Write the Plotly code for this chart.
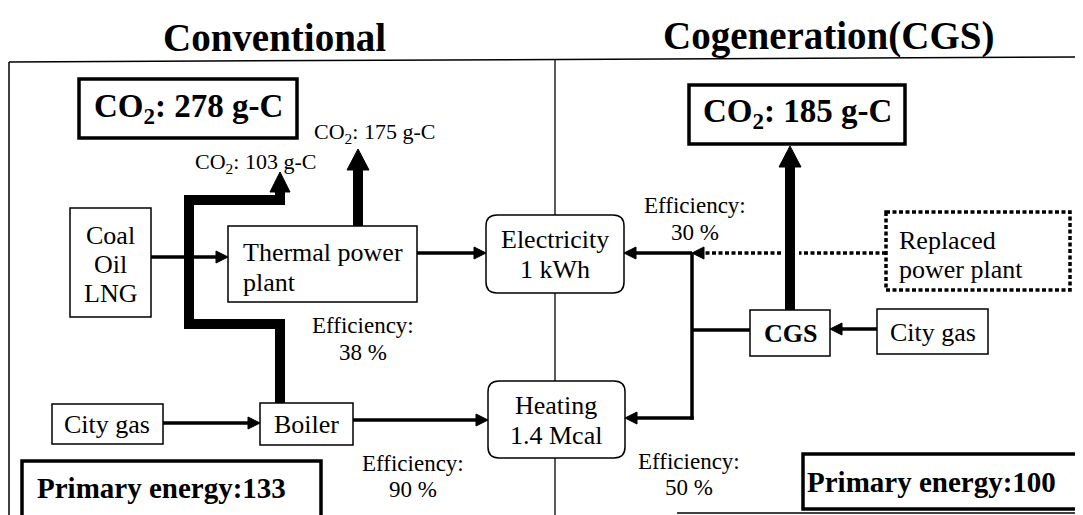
import plotly.graph_objects as go

W, H = 1083, 515
OFF = 8  # default page body margin

# ---------------- data ----------------
section_titles = ["Conventional", "Cogeneration(CGS)"]
co2_total = [278, 185]            # g-C : conventional, CGS
co2_conv_parts = [103, 175]       # g-C : boiler, thermal power plant
conv_eff = [38, 90]               # % : thermal power plant, boiler
cgs_eff = [30, 50]                # % : electricity, heat
primary_energy = [133, 100]
fuel_lines = ["Coal", "Oil", "LNG"]
thermal_lines = ["Thermal power", "plant"]
elec_lines = ["Electricity", "1 kWh"]
heat_lines = ["Heating", "1.4 Mcal"]
replaced_lines = ["Replaced", "power plant"]
city_gas = "City gas"
boiler_label = "Boiler"
cgs_label = "CGS"

# ---------------- geometry (pixel-like coords) ----------------
FONT = "Liberation Serif, Times New Roman, serif"
boxes = {
    "coal": (70, 208, 151, 317),
    "thermal": (228, 226, 417, 302),
    "cityL": (52, 404, 163, 444),
    "boiler": (260, 403, 353, 445),
    "cgs": (750, 310, 830, 356),
    "cityR": (877, 309, 988, 354),
}
rounded = {"elec": (486, 215, 624, 293), "heat": (488, 381, 625, 458)}
thick_boxes = {
    "co2L": (79, 79, 297, 138),
    "co2R": (689, 85, 905, 144),
    "peL": (22, 461, 321, 520),
    "peR": (803, 454, 1077, 509),
}
replaced_box = (886, 212, 1070, 290)

shapes = []
annotations = []


def line(x0, y0, x1, y1, w=3.5, dash=None, color="black"):
    d = dict(type="line", xref="x", yref="y", x0=x0, y0=y0, x1=x1, y1=y1,
             line=dict(color=color, width=w), layer="above")
    if dash:
        d["line"]["dash"] = dash
    shapes.append(d)


def head(x, y, dx, dy, L, hw):
    bx, by = x - dx * L, y - dy * L
    px, py = -dy, dx
    p = (f"M {x},{y} L {bx + px * hw},{by + py * hw} "
         f"L {bx - px * hw},{by - py * hw} Z")
    shapes.append(dict(type="path", xref="x", yref="y", path=p,
                       fillcolor="black", line=dict(color="black", width=1),
                       layer="above"))


def arrow(x0, y0, x1, y1, w=3.5, L=12, hw=6, dash=None):
    dx, dy = x1 - x0, y1 - y0
    n = (dx * dx + dy * dy) ** 0.5
    dx, dy = dx / n, dy / n
    line(x0, y0, x1 - dx * (L - 1), y1 - dy * (L - 1), w, dash)
    head(x1, y1, dx, dy, L, hw)


def rect(b, w=1.5, dash=None):
    d = dict(type="rect", xref="x", yref="y", x0=b[0], y0=b[1], x1=b[2], y1=b[3],
             line=dict(color="black", width=w), fillcolor="white", layer="above")
    if dash:
        d["line"]["dash"] = dash
    shapes.append(d)


def rrect(b, r=11, w=1.5):
    x0, y0, x1, y1 = b
    p = (f"M {x0 + r},{y0} L {x1 - r},{y0} Q {x1},{y0} {x1},{y0 + r} "
         f"L {x1},{y1 - r} Q {x1},{y1} {x1 - r},{y1} L {x0 + r},{y1} "
         f"Q {x0},{y1} {x0},{y1 - r} L {x0},{y0 + r} Q {x0},{y0} {x0 + r},{y0} Z")
    shapes.append(dict(type="path", xref="x", yref="y", path=p,
                       fillcolor="white", line=dict(color="black", width=w),
                       layer="above"))


def text(x, y, t, size, bold=False, xanchor="center"):
    if bold:
        t = f"<b>{t}</b>"
    annotations.append(dict(x=x, y=y, xref="x", yref="y", text=t, showarrow=False,
                            xanchor=xanchor, yanchor="middle",
                            font=dict(family=FONT, size=size, color="black")))


# ---------------- frame ----------------
line(9, 62, 1083, 57, w=1.5)
line(9, 62, 9, 515, w=1.5)
line(555, 60, 555, 515, w=1.3)
line(677, 513, 1083, 513, w=1.5)

# ---------------- thick CO2 flows ----------------
path103 = "M 280,403 L 280,324 L 189,324 L 189,200 L 280,200 L 280,190"
shapes.append(dict(type="path", xref="x", yref="y", path=path103,
                   line=dict(color="black", width=10), layer="above"))
head(280, 172, 0, -1, 20, 10)
line(358, 226, 358, 168, w=10)
head(358, 149, 0, -1, 21, 11)
line(790, 310, 790, 165, w=10)
head(790, 146, 0, -1, 21, 11)

# ---------------- thin flows ----------------
arrow(151, 257, 228, 257)
arrow(417, 253, 486, 253)
arrow(163, 423, 260, 423)
arrow(353, 420, 488, 420)
line(692, 253, 692, 419.7)
arrow(692, 253, 624, 253)
arrow(693.7, 418, 625, 418)
line(750, 330, 692, 330)
arrow(877, 329, 830, 329)
line(886, 253, 799, 253, w=3.5, dash="4px,2.5px")
line(781, 253, 704, 253, w=3.5, dash="4px,2.5px")
head(692, 253, -1, 0, 12, 6)

# ---------------- boxes ----------------
for b in boxes.values():
    rect(b)
for b in rounded.values():
    rrect(b)
for b in thick_boxes.values():
    rect(b, w=3.5)
rect(replaced_box, w=3.5, dash="4px,2.5px")

# ---------------- texts ----------------
text(274, 37, section_titles[0], 39, bold=True)
text(828, 36, section_titles[1], 39, bold=True)

text(188, 108, f"CO<sub>2</sub>: {co2_total[0]} g-C", 33, bold=True)
text(797, 113, f"CO<sub>2</sub>: {co2_total[1]} g-C", 33, bold=True)
text(255, 163, f"CO<sub>2</sub>: {co2_conv_parts[0]} g-C", 22)
text(374, 133, f"CO<sub>2</sub>: {co2_conv_parts[1]} g-C", 22)

for i, t in enumerate(fuel_lines):
    text(110, 235 + 29 * i, t, 26)
for i, t in enumerate(thermal_lines):
    text(241, 252 + 30 * i, t, 26, xanchor="left")
for i, t in enumerate(elec_lines):
    text(555, 239 + 30 * i, t, 26)
for i, t in enumerate(heat_lines):
    text(556, 405 + 30 * i, t, 26)
for i, t in enumerate(replaced_lines):
    text(897, 240 + 29 * i, t, 26, xanchor="left")

text(107, 424, city_gas, 26)
text(306, 424, boiler_label, 26)
text(790, 333, cgs_label, 26, bold=True)
text(933, 332, city_gas, 26)

text(363, 325, "Efficiency:", 23)
text(363, 352, f"{conv_eff[0]} %", 23)
text(413, 463, "Efficiency:", 23)
text(413, 489, f"{conv_eff[1]} %", 23)
text(695, 205, "Efficiency:", 23)
text(695, 232, f"{cgs_eff[0]} %", 23)
text(689, 461, "Efficiency:", 23)
text(689, 487, f"{cgs_eff[1]} %", 23)

text(161, 488, f"Primary energy:{primary_energy[0]}", 29, bold=True)
text(931, 482, f"Primary energy:{primary_energy[1]}", 29, bold=True)

fig = go.Figure()
fig.update_layout(
    width=W - OFF, height=H - OFF, margin=dict(l=0, r=0, t=0, b=0),
    paper_bgcolor="white", plot_bgcolor="white",
    xaxis=dict(range=[OFF, W], visible=False, fixedrange=True),
    yaxis=dict(range=[H, OFF], visible=False, fixedrange=True),
    shapes=shapes, annotations=annotations, showlegend=False,
)
fig.write_html("out.html", config={"displayModeBar": False, "staticPlot": True})
